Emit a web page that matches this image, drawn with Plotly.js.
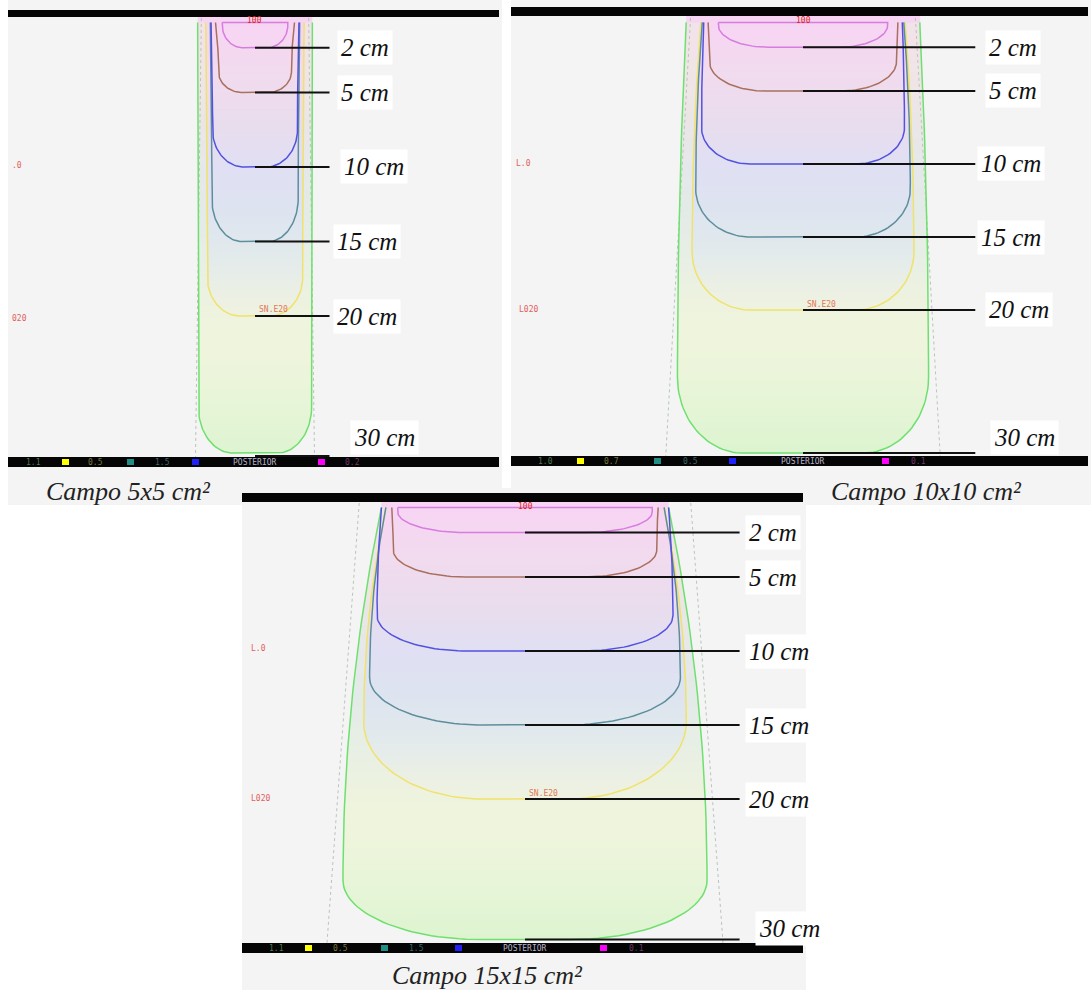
<!DOCTYPE html>
<html><head><meta charset="utf-8">
<script src="https://cdn.plot.ly/plotly-3.0.1.min.js"></script>
<style>html,body{margin:0;padding:0;background:#fff}#chart{width:1091px;height:994px}</style>
</head><body><div id="chart"></div>
<script>
// ---------------- DATA ----------------
const fieldNames = ['Campo 5x5 cm²', 'Campo 10x10 cm²', 'Campo 15x15 cm²'];
const labelDepths = [2, 5, 10, 15, 20, 30];
const labelTexts = ['2 cm', '5 cm', '10 cm', '15 cm', '20 cm', '30 cm'];
const curveColors = ['#d77ce0', '#a8705f', '#5252e0', '#5d8e9c', '#f0e26a', '#6ee06e'];
// depth (cm) reached by each isodose curve on the central axis
const curveDepth5  = [2, 5, 10, 15, 20, 29.2];
const curveDepth10 = [2, 5, 10, 15, 20, 29.8];
const curveDepth15 = [2, 5, 10, 15, 20, 29.5];
// half-width (cm) of each curve at the surface
const hwTop5  = [2.2, 2.65, 2.95, 3.0, 3.3, 3.85];
const hwTop10 = [5.8, 6.5, 6.8, 6.9, 7.0, 8.0];
const hwTop15 = [8.6, 9.0, 9.7, 9.4, 9.4, 9.7];
// half-width (cm) of each curve where its side meets the bottom corner
const hwSide5  = [2.2, 2.45, 2.85, 2.9, 3.2, 3.8];
const hwSide10 = [5.8, 6.4, 6.95, 7.35, 7.6, 8.6];
const hwSide15 = [8.6, 8.9, 10.0, 10.5, 10.9, 12.3];
// bottom corner extent, lateral and vertical (cm)
const cornerX5  = [1.4, 1.6, 2.1, 2.0, 2.2, 2.3];
const cornerY5  = [1.5, 1.4, 2.5, 2.9, 2.6, 3.1];
const cornerX10 = [3.4, 3.8, 3.35, 3.75, 4.0, 4.5];
const cornerY10 = [1.5, 2.0, 2.5, 3.3, 4.0, 5.2];
const cornerX15 = [4.6, 4.9, 6.1, 7.7, 8.0, 9.3];
const cornerY15 = [1.4, 1.8, 2.4, 3.2, 5.2, 4.0];
// geometric beam edge half-width at surface and at 30 cm
const beamEdge5  = [3.6, 4.0];
const beamEdge10 = [7.7, 9.4];
const beamEdge15 = [11.2, 13.4];
// depth of the 30 cm marker line
const line30Depth = [29.4, 29.8, 29.5];
// small dose values printed in the bottom legend bar
const barValues5  = ['1.1', '0.5', '1.5', '0.2'];
const barValues10 = ['1.0', '0.7', '0.5', '0.1'];
const barValues15 = ['1.1', '0.5', '1.5', '0.1'];

const fieldData = [
  {depth: curveDepth5,  hwTop: hwTop5,  hwSide: hwSide5,  rx: cornerX5,  ry: cornerY5,  edge: beamEdge5,  bar: barValues5},
  {depth: curveDepth10, hwTop: hwTop10, hwSide: hwSide10, rx: cornerX10, ry: cornerY10, edge: beamEdge10, bar: barValues10},
  {depth: curveDepth15, hwTop: hwTop15, hwSide: hwSide15, rx: cornerX15, ry: cornerY15, edge: beamEdge15, bar: barValues15}
];

// ---------------- LAYOUT / STYLE ----------------
const W = 1091, H = 994;
const X = p => p / W, Y = p => 1 - p / H;
const panels = [
  {cx: 255, s: 14.9, y0: 18, px: [8, 502], py: [10, 468], bg: [8, 502, 0, 505], topBar: [10, 17], botBar: [457, 467],
   lineEnd: 5.0, labelLeft: [337, 337, 340, 333, 333, 350], label30y: 437, caption: [128, 491],
   squares: [[62, '#ffff00'], [127, '#1f8f86'], [192, '#2020ff'], [318, '#ff00ff']],
   barText: [33, 95, 162, 352],
   redL: [[17, 165, '.0'], [19, 318, '020']]},
  {cx: 803, s: 14.6, y0: 18, px: [511, 1091], py: [7, 468], bg: [511, 1091, 0, 505], topBar: [7, 16], botBar: [456, 466],
   lineEnd: 11.8, labelLeft: [985, 985, 977, 977, 985, 990], label30y: 437, caption: [926, 491],
   squares: [[577, '#ffff00'], [654, '#1f8f86'], [729, '#2020ff'], [882, '#ff00ff']],
   barText: [545, 611, 690, 918],
   redL: [[523, 163, 'L.0'], [528, 310, 'L020']]},
  {cx: 525, s: 14.8, y0: 503, px: [242, 806], py: [493, 956], bg: [242, 806, 488, 990], topBar: [493, 502], botBar: [943, 953],
   lineEnd: 14.5, labelLeft: [745, 745, 745, 745, 745, 755], label30y: 928, caption: [487, 975],
   squares: [[305, '#ffff00'], [381, '#1f8f86'], [455, '#2020ff'], [600, '#ff00ff']],
   barText: [276, 340, 416, 636],
   redL: [[258, 648, 'L.0'], [260, 798, 'L020']]}
];
const barTextColors = ['#4f7a4f', '#7a7a3a', '#3a6a6a', '#6a3a6a'];
const panelBg = '#f4f4f4';
const gradStops = [[-1, '#f7d3f3'], [1, '#f6d6f2'], [4, '#f1dbee'], [7, '#e9dded'], [10, '#e0dff3'], [13, '#dde4f0'],
  [16, '#e2eaec'], [18.5, '#ecf0e4'], [21, '#f1f4de'], [24, '#ebf6da'], [27, '#ddf5d2'], [29.5, '#d3f3c8'], [31, '#d0f2c4']];
const gMin = -1, gMax = 31;
const colorscale = gradStops.map(g => [(g[0] - gMin) / (gMax - gMin), g[1]]);
const bandFill = 'rgba(238,246,220,0.4)';
const labelFont = {family: 'Liberation Serif, Times New Roman, serif', size: 25, style: 'italic', color: '#111'};
const capFont = {family: 'Liberation Serif, Times New Roman, serif', size: 26, style: 'italic', color: '#222'};
const tinyFont = c => ({family: 'DejaVu Sans Mono, monospace', size: 8, color: c});

function curvePath(depth, hwTop, hwSide, rx, ry) {
  const d0 = 0.3, dc = depth - ry, half = [];
  for (let i = 0; i <= 30; i++) { const t = i / 30; half.push([hwSide + (hwTop - hwSide) * Math.pow(1 - t, 2), d0 + (dc - d0) * t]); }
  for (let i = 1; i <= 30; i++) { const a = Math.PI / 2 * i / 30; half.push([hwSide - rx + rx * Math.cos(a), dc + ry * Math.sin(a)]); }
  const xs = [], ys = [];
  half.forEach(p => { xs.push(-p[0]); ys.push(p[1]); });
  for (let i = half.length - 1; i >= 0; i--) { xs.push(half[i][0]); ys.push(half[i][1]); }
  return {xs, ys};
}
function note(xp, yp, text, font, xanchor) {
  return {xref: 'paper', yref: 'paper', x: X(xp), y: Y(yp), text, showarrow: false, font,
    xanchor: xanchor || 'center', yanchor: 'middle'};
}

const traces = [], shapes = [], annotations = [], layout = {};
panels.forEach((P, k) => {
  const sfx = k === 0 ? '' : String(k + 1);
  const xa = 'x' + sfx, ya = 'y' + sfx;
  const xr = [(P.px[0] - P.cx) / P.s, (P.px[1] - P.cx) / P.s];
  const yTop = (P.py[0] - P.y0) / P.s, yBot = (P.py[1] - P.y0) / P.s;
  const ax = {showgrid: false, zeroline: false, showticklabels: false, ticks: '', showline: false, fixedrange: true};
  layout['xaxis' + sfx] = Object.assign({}, ax, {domain: [X(P.px[0]), X(P.px[1])], range: xr, anchor: ya});
  layout['yaxis' + sfx] = Object.assign({}, ax, {domain: [Y(P.py[1]), Y(P.py[0])], range: [yBot, yTop], anchor: xa});
  const F = fieldData[k];
  const n = F.depth.length - 1;
  const wMax = F.hwSide[n] + 1;
  const paths = F.depth.map((d, i) => curvePath(d, F.hwTop[i], F.hwSide[i], F.rx[i], F.ry[i]));
  // gradient dose wash
  const gy = gradStops.map(g => g[0]);
  traces.push({type: 'heatmap', x: [-wMax, wMax], y: gy, z: gy.map(d => [d, d]), colorscale, zmin: gMin, zmax: gMax,
    zsmooth: 'best', showscale: false, hoverinfo: 'skip', xaxis: xa, yaxis: ya});
  // paler periphery between the outer curve and the 20 cm curve
  const g = paths[n], yl = paths[n - 1];
  const bx = g.xs.slice(), by = g.ys.slice();
  for (let i = yl.xs.length - 1; i >= 0; i--) { bx.push(yl.xs[i]); by.push(yl.ys[i]); }
  traces.push({type: 'scatter', mode: 'lines', x: bx, y: by, fill: 'toself', fillcolor: bandFill, line: {width: 0},
    hoverinfo: 'skip', showlegend: false, xaxis: xa, yaxis: ya});
  // mask outside the outermost curve
  const mx = [xr[0] - 1, xr[0] - 1, xr[1] + 1, xr[1] + 1, F.hwTop[n]];
  const my = [yTop - 1, yBot + 1, yBot + 1, yTop - 1, yTop - 1];
  for (let i = g.xs.length - 1; i >= 0; i--) { mx.push(g.xs[i]); my.push(g.ys[i]); }
  mx.push(-F.hwTop[n]); my.push(yTop - 1);
  traces.push({type: 'scatter', mode: 'lines', x: mx, y: my, fill: 'toself', fillcolor: panelBg, line: {width: 0},
    hoverinfo: 'skip', showlegend: false, xaxis: xa, yaxis: ya});
  // beam edges
  [-1, 1].forEach(sg => traces.push({type: 'scatter', mode: 'lines', x: [sg * F.edge[0], sg * F.edge[1]], y: [0, 30],
    line: {color: '#b9c6b9', width: 1, dash: 'dot'}, hoverinfo: 'skip', showlegend: false, xaxis: xa, yaxis: ya}));
  // isodose curves
  for (let i = n; i >= 0; i--) {
    let xs = paths[i].xs, ys = paths[i].ys;
    if (i === 0) { xs = xs.concat([xs[0]]); ys = ys.concat([ys[0]]); }
    traces.push({type: 'scatter', mode: 'lines', x: xs, y: ys, line: {color: curveColors[i], width: 1.5},
      hoverinfo: 'skip', showlegend: false, xaxis: xa, yaxis: ya});
  }
  // connector lines and labels
  labelDepths.forEach((d, j) => {
    const dd = d === 30 ? line30Depth[k] : d;
    traces.push({type: 'scatter', mode: 'lines', x: [0, P.lineEnd], y: [dd, dd], line: {color: '#111', width: 2},
      hoverinfo: 'skip', showlegend: false, xaxis: xa, yaxis: ya});
    const ypx = d === 30 ? P.label30y : P.y0 + P.s * d;
    const a = note(P.labelLeft[j], ypx, labelTexts[j], labelFont, 'left');
    a.bgcolor = '#ffffff'; a.borderpad = 3;
    annotations.push(a);
  });
  // panel background (incl. caption area)
  shapes.push({type: 'rect', xref: 'paper', yref: 'paper', x0: X(P.bg[0]), x1: X(P.bg[1]), y0: Y(P.bg[3]), y1: Y(P.bg[2]),
    fillcolor: panelBg, line: {width: 0}, layer: 'below'});
  // bars
  [P.topBar, P.botBar].forEach(b => shapes.push({type: 'rect', xref: 'paper', yref: 'paper', x0: X(P.px[0]), x1: X(P.px[1] - 3),
    y0: Y(b[1]), y1: Y(b[0]), fillcolor: '#050505', line: {width: 0}}));
  P.squares.forEach(sq => shapes.push({type: 'rect', xref: 'paper', yref: 'paper', x0: X(sq[0]), x1: X(sq[0] + 7),
    y0: Y(P.botBar[1] - 2), y1: Y(P.botBar[0] + 2), fillcolor: sq[1], line: {width: 0}}));
  const barMid = (P.botBar[0] + P.botBar[1]) / 2;
  F.bar.forEach((v, j) => annotations.push(note(P.barText[j], barMid, v, tinyFont(barTextColors[j]))));
  annotations.push(note(P.cx, barMid, 'POSTERIOR', tinyFont('#b8b4cc')));
  annotations.push(note(P.cx, P.y0 + 3, '100', tinyFont('#e22222')));
  annotations.push(note(P.cx + 2, P.y0 + P.s * 20 - 6, 'SN.E20', tinyFont('#e07858'), 'left'));
  P.redL.forEach(r => annotations.push(note(r[0], r[1], r[2], tinyFont('#e06060'))));
  annotations.push(note(P.caption[0], P.caption[1], fieldNames[k], capFont));
});

Object.assign(layout, {width: W, height: H, margin: {l: 0, r: 0, t: 0, b: 0}, paper_bgcolor: '#ffffff',
  plot_bgcolor: panelBg, showlegend: false, shapes, annotations});
Plotly.newPlot('chart', traces, layout, {displayModeBar: false, staticPlot: true});
</script></body></html>
